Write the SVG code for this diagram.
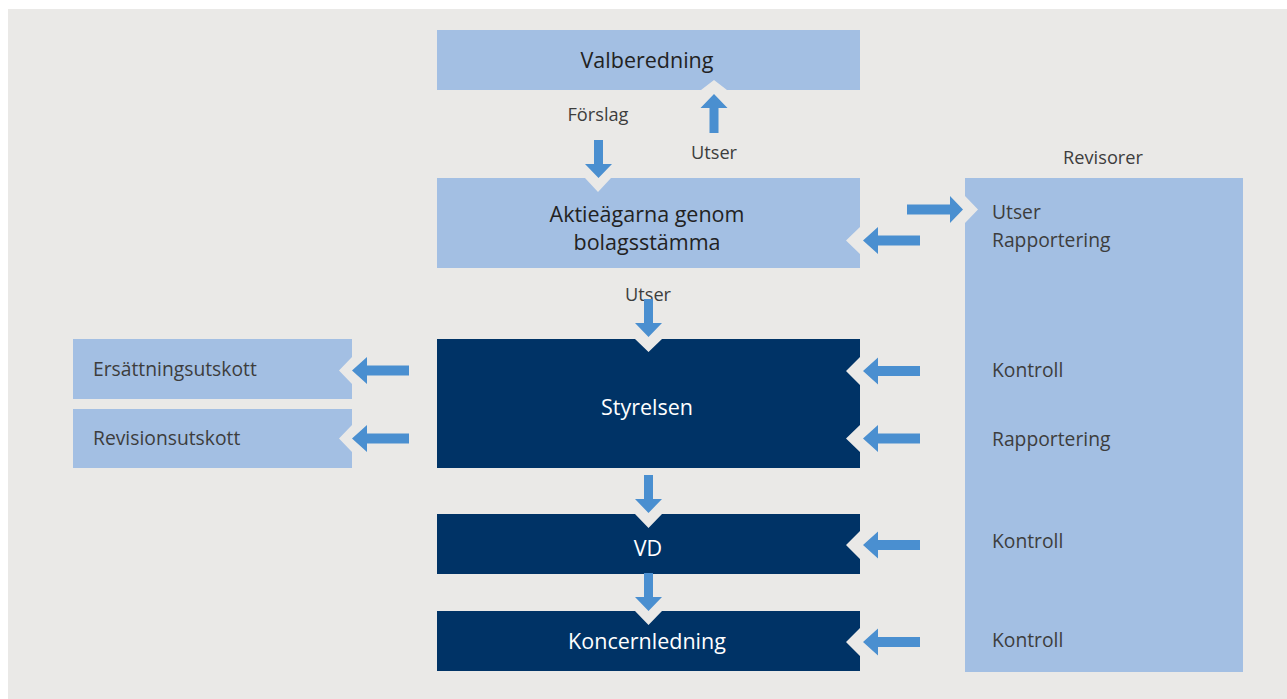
<svg xmlns="http://www.w3.org/2000/svg" width="1287" height="699" viewBox="0 0 1287 699">
<style>
.bg{fill:#EAE9E7}
.lb{fill:#A3BFE3}
.db{fill:#003366}
.arr{fill:#4A8FD0}
.t{font-family:"Open Sans","Liberation Sans",sans-serif;font-size:21.5px;text-anchor:middle;dominant-baseline:central}
.tk{fill:#222}
.tw{fill:#fff}
.s{font-family:"Open Sans","Liberation Sans",sans-serif;font-size:19.3px;fill:#3d3d3d;dominant-baseline:central}
.l{font-size:18.2px}
.sm{text-anchor:middle}
</style>
<defs>
<polygon id="aL" points="0,0 15,-13.5 15,-5 57,-5 57,5 15,5 15,13.5"/>
<polygon id="aR" points="0,0 -13,-13.5 -13,-5 -56,-5 -56,5 -13,5 -13,13.5"/>
<polygon id="aD" points="0,0 -13.5,-14 -4.5,-14 -4.5,-38 4.5,-38 4.5,-14 13.5,-14"/>
<polygon id="aU" points="0,0 -13.5,14 -4.5,14 -4.5,39 4.5,39 4.5,14 13.5,14"/>
</defs>
<rect class="bg" x="8" y="9" width="1279" height="690"/>
<g id="valberedning">
<polygon class="lb" points="437,30 860,30 860,90 727,90 714,80 701,90 437,90"/>
<text class="t tk" x="647" y="59">Valberedning</text>
</g>
<g id="aktieagarna">
<polygon class="lb" points="437,178 585,178 598,192 611,178 860,178 860,227 846,240.5 860,254 860,268 437,268"/>
<text class="t tk" x="647" y="213">Aktieägarna genom</text>
<text class="t tk" x="647" y="241">bolagsstämma</text>
</g>
<g id="revisorer">
<text class="s l sm" x="1103" y="157">Revisorer</text>
<polygon class="lb" points="965,178 1243,178 1243,672 965,672 965,223 978,209.5 965,196"/>
<text class="s" x="992" y="211">Utser</text>
<text class="s" x="992" y="239">Rapportering</text>
<text class="s" x="992" y="369">Kontroll</text>
<text class="s" x="992" y="438">Rapportering</text>
<text class="s" x="992" y="540">Kontroll</text>
<text class="s" x="992" y="639">Kontroll</text>
</g>
<g id="styrelsen">
<polygon class="db" points="437,339 635,339 648.5,352 662,339 860,339 860,357 846,371 860,385 860,425 846,438.5 860,452 860,468 437,468"/>
<text class="t tw" x="647" y="406">Styrelsen</text>
</g>
<g id="ersattningsutskott">
<polygon class="lb" points="73,339 352,339 352,357 339,370.5 352,384 352,399 73,399"/>
<text class="s" x="93" y="368">Ersättningsutskott</text>
</g>
<g id="revisionsutskott">
<polygon class="lb" points="73,409 352,409 352,425 339,438.5 352,452 352,468 73,468"/>
<text class="s" x="93" y="437">Revisionsutskott</text>
</g>
<g id="vd">
<polygon class="db" points="437,514 635,514 648.5,528 662,514 860,514 860,531 846,545 860,559 860,574 437,574"/>
<text class="t tw" x="648" y="547">VD</text>
</g>
<g id="koncernledning">
<polygon class="db" points="437,611 635,611 648.5,625 662,611 860,611 860,628 846,642 860,656 860,671 437,671"/>
<text class="t tw" x="647" y="640">Koncernledning</text>
</g>
<g id="labels">
<text class="s l sm" x="598" y="114">Förslag</text>
<text class="s l sm" x="714" y="152">Utser</text>
<text class="s l sm" x="648" y="294">Utser</text>
</g>
<g id="connectors" class="arr">
<use href="#aD" x="598.5" y="178"/>
<use href="#aU" x="714" y="94"/>
<use href="#aR" x="963" y="209.5"/>
<use href="#aL" x="863" y="240.5"/>
<use href="#aD" x="648.5" y="337"/>
<use href="#aL" x="863" y="371"/>
<use href="#aL" x="863" y="438.5"/>
<use href="#aL" x="352" y="370.5"/>
<use href="#aL" x="352" y="438.5"/>
<use href="#aD" x="648.5" y="513"/>
<use href="#aL" x="863" y="545"/>
<use href="#aD" x="648.5" y="611"/>
<use href="#aL" x="863" y="642"/>
</g>
</svg>
